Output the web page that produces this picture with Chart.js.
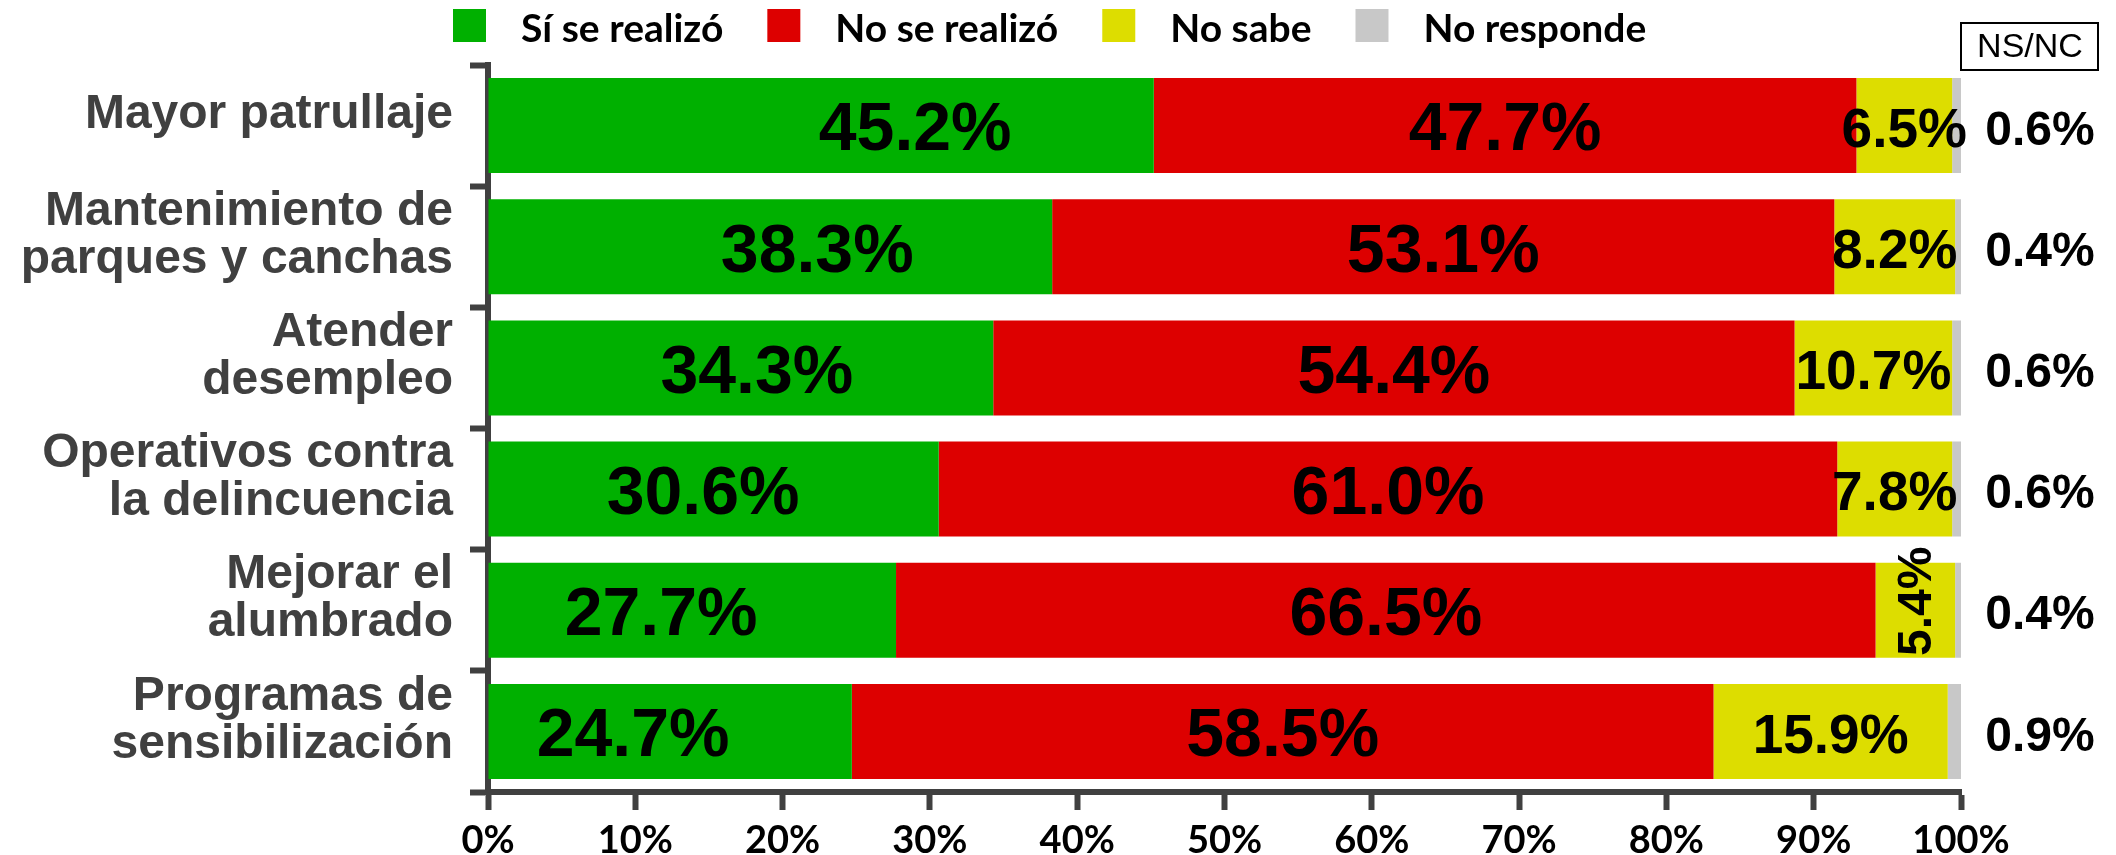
<!DOCTYPE html>
<html lang="es">
<head>
<meta charset="utf-8">
<title>Acciones realizadas</title>
<script src="https://cdn.jsdelivr.net/npm/chart.js@4.4.1/dist/chart.umd.min.js"></script>
<style>
  html, body { margin: 0; padding: 0; background: #fff; }
  #wrap { width: 2116px; height: 855px; position: relative; }
</style>
</head>
<body>
<div id="wrap"><canvas id="chart"></canvas></div>
<script>
// Datos (porcentajes)
const categories = [
  'Mayor patrullaje',
  ['Mantenimiento de', 'parques y canchas'],
  ['Atender', 'desempleo'],
  ['Operativos contra', 'la delincuencia'],
  ['Mejorar el', 'alumbrado'],
  ['Programas de', 'sensibilización']
];
const seriesNames = ['Sí se realizó', 'No se realizó', 'No sabe', 'No responde'];
const siRealizo = [45.2, 38.3, 34.3, 30.6, 27.7, 24.7];
const noRealizo = [47.7, 53.1, 54.4, 61.0, 66.5, 58.5];
const noSabe = [6.5, 8.2, 10.7, 7.8, 5.4, 15.9];
const noResponde = [0.6, 0.4, 0.6, 0.6, 0.4, 0.9];
const xTickLabels = ['0%', '10%', '20%', '30%', '40%', '50%', '60%', '70%', '80%', '90%', '100%'];

const colors = ['#00B000', '#DD0000', '#DDDD00', '#C8C8C8'];
const axisColor = '#404040';
const arial = '"Liberation Sans", Arial, sans-serif';

// Etiquetas de valor dentro de las barras + columna NS/NC a la derecha
const barLabels = {
  id: 'barLabels',
  afterDatasetsDraw(chart, args, opts) {
    const ctx = chart.ctx;
    const area = chart.chartArea;
    const xScale = chart.scales.x;
    ctx.save();
    ctx.fillStyle = '#000';
    ctx.textAlign = 'center';
    ctx.textBaseline = 'middle';
    chart.data.datasets.forEach((ds, di) => {
      const meta = chart.getDatasetMeta(di);
      meta.data.forEach((bar, i) => {
        const v = ds.data[i];
        const txt = v.toFixed(1) + '%';
        const y = bar.y + opts.dy;
        if (di === 3) {
          ctx.font = 'bold 48px ' + arial;
          ctx.fillText(txt, area.right + 79, y);
          return;
        }
        let cx = (bar.x + bar.base) / 2;
        if (di === 0) {
          // en el original las etiquetas verdes no están centradas
          cx = xScale.getPixelForValue(v / 2 + opts.greenNudge[i]);
        }
        ctx.font = 'bold ' + (di === 2 ? 55 : 68) + 'px ' + arial;
        const w = ctx.measureText(txt).width;
        if (di === 2 && w > (bar.x - bar.base) * 1.4) {
          // segmento muy angosto: texto vertical
          ctx.save();
          ctx.font = 'bold 48px ' + arial;
          ctx.translate(cx + 2, bar.y + opts.rotDy);
          ctx.rotate(-Math.PI / 2);
          ctx.fillText(txt, 0, 0);
          ctx.restore();
        } else {
          ctx.fillText(txt, cx, y);
        }
      });
    });

    // recuadro NS/NC
    ctx.strokeStyle = '#000';
    ctx.lineWidth = 2;
    ctx.strokeRect(area.right, 23, 137, 47);
    ctx.font = '34px ' + arial;
    ctx.fillText('NS/NC', area.right + 69, 48);
    ctx.restore();
  }
};

// Leyenda superior dibujada a mano (cuadro 33px y separación como en el original)
const topLegend = {
  id: 'topLegend',
  afterDraw(chart, args, opts) {
    const ctx = chart.ctx;
    ctx.save();
    ctx.font = opts.font;
    ctx.textBaseline = 'alphabetic';
    let x = opts.x;
    chart.data.datasets.forEach(ds => {
      ctx.fillStyle = ds.backgroundColor;
      ctx.fillRect(x, opts.y, opts.box, opts.box);
      x += opts.box + opts.textGap;
      ctx.fillStyle = '#000';
      ctx.fillText(ds.label, x, opts.y + opts.box);
      x += ctx.measureText(ds.label).width + opts.itemGap;
    });
    ctx.restore();
  }
};

const seriesData = [siRealizo, noRealizo, noSabe, noResponde];

const ctx = document.getElementById('chart').getContext('2d');
new Chart(ctx, {
  type: 'bar',
  data: {
    labels: categories,
    datasets: seriesNames.map((name, k) => ({
      label: name,
      data: seriesData[k],
      backgroundColor: colors[k],
      borderWidth: 0,
      barPercentage: 0.784,
      categoryPercentage: 1
    }))
  },
  options: {
    indexAxis: 'y',
    responsive: true,
    maintainAspectRatio: false,
    animation: false,
    layout: { padding: { top: 65, right: 155, left: 0, bottom: 0 } },
    plugins: {
      legend: { display: false },
      tooltip: { enabled: false },
      barLabels: { dy: 6, rotDy: -9, greenNudge: [6.4, 3.2, 1.1, -0.7, -2.1, -2.5] },
      topLegend: { x: 453, y: 9, box: 33, textGap: 35, itemGap: 44, font: 'bold 39px Lato, sans-serif' }
    },
    scales: {
      x: {
        stacked: true,
        min: 0,
        max: 100,
        afterFit: s => { s.height = 63; },
        grid: { drawOnChartArea: false, tickLength: 18, tickWidth: 6, tickColor: axisColor },
        border: { width: 6, color: axisColor },
        ticks: {
          stepSize: 10,
          padding: 8,
          color: '#000',
          font: { family: 'Lato', size: 38, weight: 'bold' },
          callback: (v, i) => xTickLabels[i]
        }
      },
      y: {
        stacked: true,
        offset: true,
        afterFit: s => { s.width = 488; },
        grid: { offset: true, drawOnChartArea: false, tickLength: 18, tickWidth: 6, tickColor: axisColor },
        border: { width: 6, color: axisColor },
        ticks: {
          autoSkip: false,
          padding: 17,
          labelOffset: -11,
          color: axisColor,
          font: { family: 'Liberation Sans', size: 48, weight: 'bold', lineHeight: 1.0 }
        }
      }
    }
  },
  plugins: [barLabels, topLegend]
});
</script>
</body>
</html>
